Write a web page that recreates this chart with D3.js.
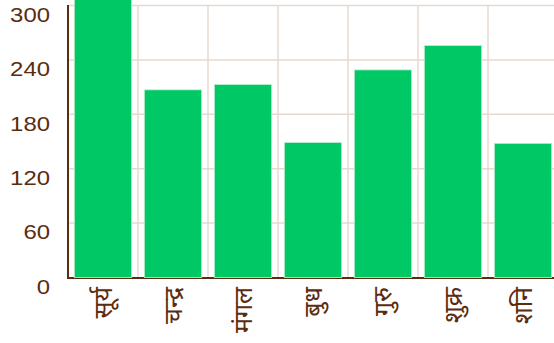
<!DOCTYPE html>
<html><head><meta charset="utf-8">
<script src="https://cdn.jsdelivr.net/npm/d3@7"></script>
<style>html,body{margin:0;padding:0;background:#fff;overflow:hidden}</style>
</head><body>
<svg id="c" width="554" height="343"></svg>
<script>
const categories = ["सूर्य", "चन्द्र", "मंगल", "बुध", "गुरु", "शुक्र", "शनि"];
const values = [320, 207, 213, 149, 229, 256, 148];
const yTicks = [0, 60, 120, 180, 240, 300];

(function () {
const svg = d3.select("#c");
const left = 68, plotW = 490, plotTop = 5.5, bottom = 277.5;
const brown = "#5b2c0f", grid = "#e6dad0", green = "#00c864";

const x = d3.scaleBand().domain(categories).range([left, left + plotW])
  .paddingInner(0.18).paddingOuter(0.09);
const y = d3.scaleLinear().domain([0, 300]).range([bottom, plotTop]);

// horizontal grid
svg.append("g").selectAll("line").data(yTicks.filter(d => d > 0)).join("line")
  .attr("x1", left).attr("x2", 554).attr("y1", d => y(d)).attr("y2", d => y(d))
  .attr("stroke", grid).attr("stroke-width", 1.5);
// vertical grid at band boundaries
const bounds = categories.map((c, i) => left + i * x.step()).slice(1).concat([left + plotW]);
svg.append("g").selectAll("line").data(bounds).join("line")
  .attr("x1", d => d).attr("x2", d => d).attr("y1", y(300)).attr("y2", bottom)
  .attr("stroke", grid).attr("stroke-width", 1.5);

// x axis line
svg.append("line").attr("x1", left).attr("x2", 554).attr("y1", bottom + 0.5).attr("y2", bottom + 0.5)
  .attr("stroke", brown).attr("stroke-width", 2);
// y axis line
svg.append("line").attr("x1", left).attr("x2", left).attr("y1", y(300) - 0.5).attr("y2", bottom + 1.5)
  .attr("stroke", brown).attr("stroke-width", 2);

// bars
svg.append("g").selectAll("rect").data(values).join("rect")
  .attr("x", (d, i) => x(categories[i]))
  .attr("width", x.bandwidth())
  .attr("y", d => y(d))
  .attr("height", d => bottom - y(d))
  .attr("fill", green)
  .attr("stroke", "#c8f0d8").attr("stroke-width", 0.8);

// y tick labels
svg.append("g").selectAll("text").data(yTicks).join("text")
  .attr("transform", d => `translate(50,${y(d) + 9}) scale(1.14,1)`)
  .attr("dy", "0.35em")
  .attr("text-anchor", "end")
  .attr("font-family", "Liberation Sans, Arial, sans-serif")
  .attr("font-size", 21)
  .attr("fill", brown)
  .text(d => d);

// x labels
svg.append("g").selectAll("text").data(categories).join("text")
  .attr("transform", d => `translate(${x(d) + x.bandwidth() / 2},287) rotate(-90)`)
  .attr("text-anchor", "end")
  .attr("dy", "0.35em")
  .attr("font-family", "Noto Sans, DejaVu Sans, sans-serif")
  .attr("font-size", 25)
  .attr("fill", brown)
  .text(d => d);
})();
</script>
</body></html>
